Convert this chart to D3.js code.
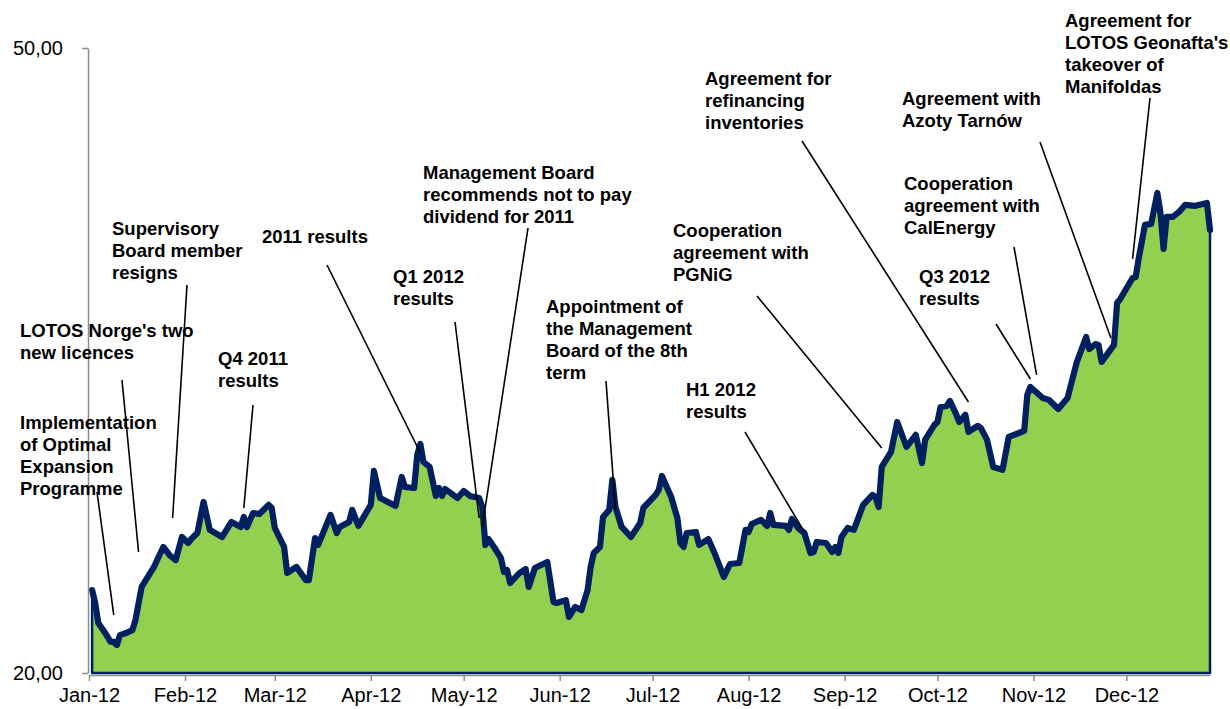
<!DOCTYPE html>
<html>
<head>
<meta charset="utf-8">
<title>LOTOS share price 2012</title>
<script src="https://cdnjs.cloudflare.com/ajax/libs/d3/7.8.5/d3.min.js"></script>
<style>
  body { margin: 0; background: #fff; }
  svg text { font-family: "Liberation Sans", Arial, sans-serif; fill: #000; }
  .note { font-size: 18.5px; font-weight: bold; }
  .axis text { font-size: 20px; }
</style>
</head>
<body>
<div id="chart"></div>
<script>
// share price, PLN
var dates = [
  "01-02","01-03","01-04","01-06","01-08","01-09","01-10","01-11","01-13","01-15","01-16","01-18","01-19","01-22","01-23","01-25","01-27","01-29","01-31",
  "02-02","02-03","02-05","02-07","02-09","02-13","02-16","02-19","02-20","02-21","02-23","02-25","02-28","02-29",
  "03-01","03-04","03-05","03-08","03-11","03-12","03-14","03-15","03-19","03-21","03-22","03-25","03-26","03-28",
  "04-01","04-02","04-04","04-09","04-11","04-12","04-15","04-16","04-17","04-18","04-20","04-22","04-23","04-24","04-25","04-29",
  "05-01","05-03","05-06","05-07","05-08","05-09","05-11","05-13","05-14","05-15","05-16","05-19","05-21","05-22","05-24","05-28","05-30","05-31",
  "06-03","06-04","06-06","06-08","06-10","06-11","06-12","06-14","06-15","06-17","06-18","06-19","06-21","06-24","06-27","06-28",
  "07-02","07-03","07-04","07-07","07-09","07-10","07-11","07-12","07-15","07-16","07-19","07-21","07-24","07-26","07-29","07-31",
  "08-01","08-02","08-05","08-07","08-08","08-09","08-13","08-14","08-15","08-17","08-19","08-21","08-22","08-23","08-26","08-28","08-29","08-30","08-31",
  "09-02","09-04","09-07","09-10","09-11","09-12","09-13","09-16","09-18","09-21","09-24","09-26","09-27","09-30",
  "10-01","10-02","10-04","10-05","10-07","10-08","10-10","10-11","10-14","10-15","10-17","10-19","10-22","10-24","10-29","10-30","10-31",
  "11-04","11-06","11-07","11-09","11-12","11-15","11-18","11-19","11-21","11-22","11-23","11-27","11-28","11-29",
  "12-03","12-04","12-05","12-07","12-09","12-11","12-12","12-13","12-14","12-16","12-18","12-20","12-23","12-27","12-28"
];
var prices = [
  23.98,23.36,22.40,21.97,21.49,21.49,21.34,21.82,21.92,22.06,22.54,24.13,24.37,25.09,25.42,26.05,25.66,25.42,26.53,
  26.24,26.43,26.72,28.21,26.87,26.53,27.25,27.01,27.49,27.01,27.68,27.63,28.07,27.92,
  26.96,26.05,24.80,25.09,24.46,24.46,26.48,26.15,27.59,26.72,27.01,27.25,27.83,27.06,
  28.07,29.70,28.40,28.02,29.41,28.93,28.88,30.47,30.99,30.13,29.89,28.50,28.88,28.50,28.83,28.40,
  28.74,28.50,28.40,27.97,26.15,26.43,26.00,25.52,24.85,24.94,24.32,24.80,24.99,24.13,25.04,25.33,23.41,23.36,
  23.50,22.69,23.17,23.02,23.98,25.09,25.76,26.05,27.49,27.83,29.27,27.97,27.01,26.53,27.20,27.92,
  28.55,28.79,29.46,28.45,27.44,26.24,26.05,26.72,26.77,26.15,26.43,25.76,24.61,25.23,25.28,26.87,
  26.77,27.15,27.35,27.06,27.68,27.11,27.06,26.87,27.39,26.96,26.72,25.76,25.81,26.29,26.24,25.81,26.05,25.76,26.53,
  26.96,26.87,28.07,28.55,28.45,27.97,29.89,30.61,32.05,30.85,31.43,30.08,31.19,31.91,
  32.05,32.77,32.82,33.06,32.43,32.05,32.39,31.57,31.86,31.76,31.19,29.89,29.75,31.33,31.62,33.35,33.73,
  33.20,33.11,32.96,32.67,33.20,34.93,36.13,35.55,35.79,35.75,34.93,35.75,37.76,37.95,
  38.96,39.01,39.92,41.51,41.56,43.04,42.08,40.36,41.89,41.89,42.13,42.47,42.42,42.56,41.27
];
var yTicks = [20, 50];
var monthTicks = ["01-01","02-01","03-01","04-01","05-01","06-01","07-01","08-01","09-01","10-01","11-01","12-01"];
var period = ["01-01", "12-28"];

// events
var notes = [
  ["Implementation", "of Optimal", "Expansion", "Programme"],
  ["LOTOS Norge's two", "new licences"],
  ["Supervisory", "Board member", "resigns"],
  ["Q4 2011", "results"],
  ["2011 results"],
  ["Q1 2012", "results"],
  ["Management Board", "recommends not to pay", "dividend for 2011"],
  ["Appointment of", "the Management", "Board of the 8th", "term"],
  ["Cooperation", "agreement with", "PGNiG"],
  ["H1 2012", "results"],
  ["Agreement for", "refinancing", "inventories"],
  ["Cooperation", "agreement with", "CalEnergy"],
  ["Q3 2012", "results"],
  ["Agreement with", "Azoty Tarnów"],
  ["Agreement for", "LOTOS Geonafta's", "takeover of", "Manifoldas"]
];
var noteDates = ["01-09","01-17","01-28","02-20","04-17","05-06","05-07","06-19","09-13","08-19","10-11","11-02","10-31","11-26","12-03"];
var noteValues = [22.78, 25.81, 27.44, 27.92, 30.56, 27.44, 27.01, 27.83, 30.80, 26.77, 33.01, 34.31, 34.11, 36.08, 39.88];

// where each note's text sits and where its leader starts
var noteLayout = [
  {x: 20, y: 429, lx: 97, ly: 492},
  {x: 20, y: 337, lx: 122, ly: 380},
  {x: 112, y: 235, lx: 187, ly: 285},
  {x: 218, y: 365, lx: 253, ly: 405},
  {x: 262, y: 243, lx: 327, ly: 265},
  {x: 393, y: 283, lx: 455, ly: 322},
  {x: 423, y: 179, lx: 528, ly: 228},
  {x: 546, y: 313, lx: 606, ly: 381},
  {x: 673, y: 237, lx: 757, ly: 296},
  {x: 686, y: 396, lx: 745, ly: 432},
  {x: 705, y: 85, lx: 802, ly: 141},
  {x: 904, y: 190, lx: 1014, ly: 247},
  {x: 919, y: 283, lx: 996, ly: 324},
  {x: 902, y: 105, lx: 1040, ly: 142},
  {x: 1065, y: 27, lx: 1150, ly: 98}
];

var width = 1230, height = 709,
    plotLeft = 89, plotRight = 1210, plotTop = 48, plotBottom = 673,
    lineHeight = 22;

var parse = function (s) { return d3.utcParse("%Y-%m-%d")("2012-" + s); };

var data = dates.map(function (d, i) { return {date: parse(d), value: prices[i]}; });

var x = d3.scaleUtc()
    .domain(period.map(parse))
    .range([plotLeft, plotRight]);

var y = d3.scaleLinear()
    .domain([20, 50])
    .range([plotBottom, plotTop]);

var svg = d3.select("#chart")
    .append("svg")
    .attr("width", width)
    .attr("height", height);

// filled area with its outline
var area = d3.area()
    .x(function (d) { return x(d.date); })
    .y0(y(20))
    .y1(function (d) { return y(d.value); });

svg.append("path")
    .datum(data)
    .attr("d", area)
    .attr("fill", "#92D050")
    .attr("stroke", "#002060")
    .attr("stroke-width", 2.5)
    .attr("stroke-linejoin", "round");

var line = d3.line()
    .x(function (d) { return x(d.date); })
    .y(function (d) { return y(d.value); });

svg.append("path")
    .datum(data)
    .attr("d", line)
    .attr("fill", "none")
    .attr("stroke", "#002060")
    .attr("stroke-width", 6.2)
    .attr("stroke-linejoin", "round")
    .attr("stroke-linecap", "round");

// axes
svg.append("g")
    .attr("class", "axis")
    .attr("transform", "translate(0," + (plotBottom + 2) + ")")
    .call(d3.axisBottom(x)
        .tickValues(monthTicks.map(parse))
        .tickFormat(d3.utcFormat("%b-%y"))
        .tickSize(6)
        .tickSizeOuter(0)
        .tickPadding(7));

svg.append("g")
    .attr("class", "axis")
    .attr("transform", "translate(" + (plotLeft - 1) + ",0)")
    .call(d3.axisLeft(y)
        .tickValues(yTicks)
        .tickFormat(function (d) { return d3.format(".2f")(d).replace(".", ","); })
        .tickSize(6)
        .tickSizeOuter(0)
        .tickPadding(19));

svg.selectAll(".axis path, .axis line")
    .attr("stroke", "#8c8c8c")
    .attr("stroke-width", 1.5);

svg.selectAll(".axis text").attr("fill", "#000");

// leader lines
svg.selectAll(".leader")
    .data(noteLayout)
    .enter()
    .append("line")
    .attr("class", "leader")
    .attr("x1", function (d) { return d.lx; })
    .attr("y1", function (d) { return d.ly; })
    .attr("x2", function (d, i) { return x(parse(noteDates[i])); })
    .attr("y2", function (d, i) { return y(noteValues[i]); })
    .attr("stroke", "#000")
    .attr("stroke-width", 1.6);

// note texts
var labels = svg.selectAll(".note")
    .data(notes)
    .enter()
    .append("text")
    .attr("class", "note")
    .attr("x", function (d, i) { return noteLayout[i].x; })
    .attr("y", function (d, i) { return noteLayout[i].y; });

labels.selectAll("tspan")
    .data(function (d) { return d; })
    .enter()
    .append("tspan")
    .attr("x", function () { return this.parentNode.getAttribute("x"); })
    .attr("dy", function (d, i) { return i === 0 ? 0 : lineHeight; })
    .text(function (d) { return d; });
</script>
</body>
</html>
